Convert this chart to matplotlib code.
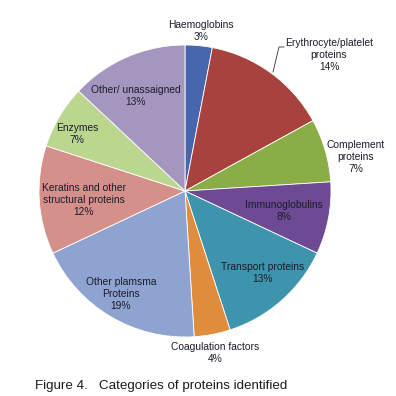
import numpy as np
import matplotlib.pyplot as plt

plt.rcParams['font.family'] = ['Liberation Sans', 'DejaVu Sans']

# %% data
categories = ["Haemoglobins", "Erythrocyte/platelet\nproteins", "Complement\nproteins",
              "Immunoglobulins", "Transport proteins", "Coagulation factors",
              "Other plamsma\nProteins", "Keratins and other\nstructural proteins",
              "Enzymes", "Other/ unassaigned"]
percent = [3, 14, 7, 8, 13, 4, 19, 12, 7, 13]

colors = ["#4866ad", "#a8423f", "#8bad48", "#6d4a93", "#3e93ad",
          "#e08c3d", "#8fa3d1", "#d5908c", "#bad68f", "#a596c0"]

# label anchor points (pixels from top-left) for each slice
label_xy = [(201, 31), (329, 55), (356, 157), (284, 211), (263, 273),
            (215, 353), (121, 294), (84, 200), (77, 134), (136, 96)]

H = 396
def fy(y):
    # pixel row -> data y (origin bottom)
    return H - y

# %% figure
fig = plt.figure(figsize=(3.96, 3.96), dpi=100)
ax = fig.add_axes([0, 0, 1, 1])

cx, cy, R = 185, 191, 146
ax.pie(percent, colors=colors, startangle=90, counterclock=False,
       center=(cx, fy(cy)), radius=R,
       wedgeprops=dict(edgecolor="white", linewidth=0.6))
ax.set_xlim(0, H)
ax.set_ylim(0, H)
ax.set_aspect("equal")
ax.axis("off")

for lab, p, (x, y) in zip(categories, percent, label_xy):
    ax.text(x, fy(y), f"{lab}\n{p}%", ha="center", va="center", fontsize=7.4,
            color="#1a1d2b", linespacing=1.25)

# leader line for erythrocyte slice
ax.plot([273, 279, 284], [fy(72), fy(47), fy(47)], color="#333333", lw=0.6)

fig.text(35 / H, 1 - 386 / H, "Figure 4.   Categories of proteins identified",
         ha="left", va="center", fontsize=9.6, color="#1a1a1a")

fig.savefig("out.png", dpi=100, facecolor="white")
